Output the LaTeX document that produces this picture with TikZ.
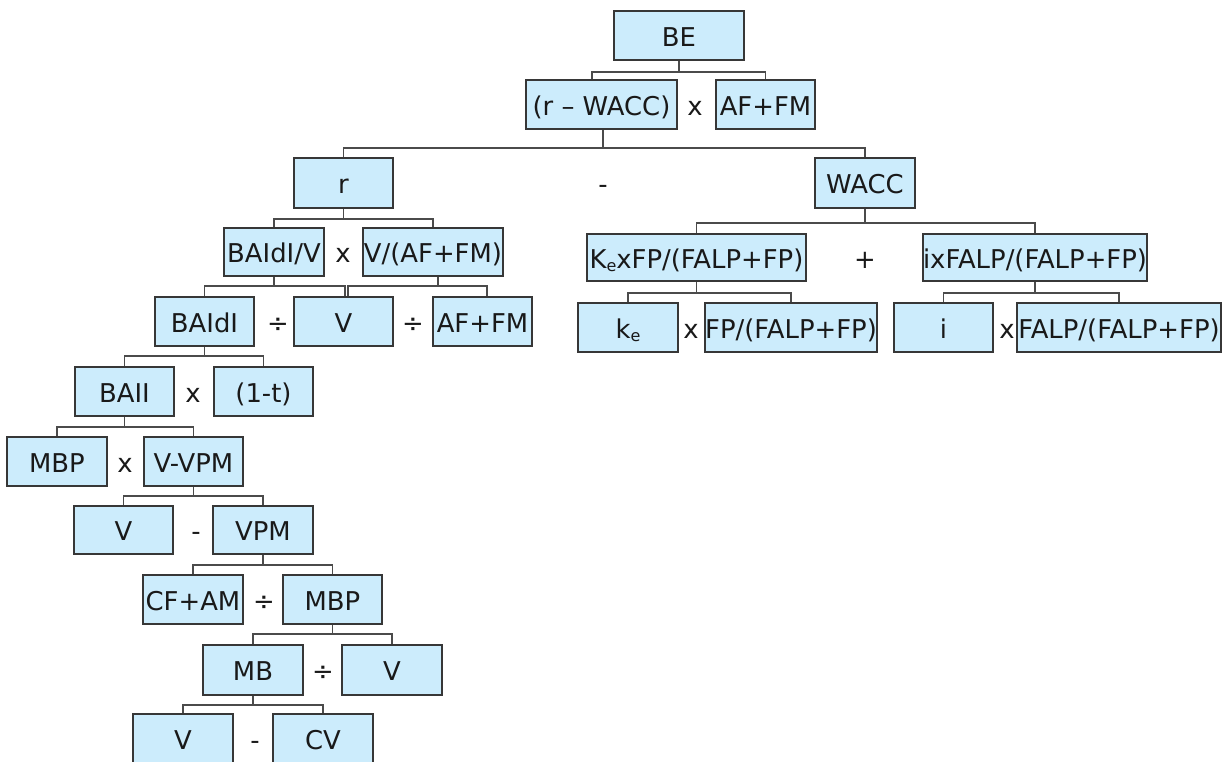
\documentclass[tikz,border=0pt]{standalone}
\usepackage{fontspec}
\setmainfont{DejaVu Sans}
\usetikzlibrary{calc}
\definecolor{boxfill}{RGB}{204,236,252}
\definecolor{boxline}{RGB}{55,55,55}
\definecolor{linkline}{RGB}{75,75,75}
\definecolor{ink}{RGB}{25,25,25}

% box from its corners (x1,y1)-(x2,y2), in pixel units
\newcommand\mkbox[6]{%
  \node[box, minimum width={(#4-#2)*0.75pt}, minimum height={(#5-#3)*0.75pt}]
    (#1) at ({(#2+#4)/2},{(#3+#5)/2}) {#6};}
\newcommand\sube[1]{\raisebox{-0.15em}{\fontsize{12}{12}\selectfont #1}}

\begin{document}
\begin{tikzpicture}[x=0.75pt,y=-0.75pt,
  box/.style={draw=boxline, line width=1.3pt, fill=boxfill, inner sep=0pt,
    text=ink, font=\fontsize{19.4}{21}\selectfont, text height=17pt, text depth=1.1pt},
  op/.style={text=ink, font=\fontsize{19.4}{21}\selectfont, inner sep=0pt,
    text height=17pt, text depth=1.1pt},
  link/.style={draw=linkline, line width=1.4pt},
]
\useasboundingbox (0,0) rectangle (1224,762);
\fill[white] (0,0) rectangle (1224,762);
\clip (0,0) rectangle (1224,762);

% top levels
\mkbox{BE}{614}{11}{744}{60}{BE}
\mkbox{rw}{526}{80}{677}{129}{(r – WACC)}
\mkbox{afA}{716}{80}{815}{129}{AF+FM}
\mkbox{r}{294}{158}{393}{208}{r}
\mkbox{wacc}{815}{158}{915}{208}{WACC}

% left branch
\mkbox{baidiv}{224}{228}{324}{276}{BAIdI/V}
\mkbox{vafm}{363}{228}{503}{276}{V/(AF+FM)}
\mkbox{baidi}{155}{297}{254}{346}{BAIdI}
\mkbox{vA}{294}{297}{393}{346}{V}
\mkbox{afB}{433}{297}{532}{346}{AF+FM}
\mkbox{baii}{75}{367}{174}{416}{BAII}
\mkbox{onet}{214}{367}{313}{416}{(1-t)}
\mkbox{mbpA}{7}{437}{107}{486}{MBP}
\mkbox{vvpm}{144}{437}{243}{486}{V-VPM}
\mkbox{vB}{74}{506}{173}{554}{V}
\mkbox{vpm}{213}{506}{313}{554}{VPM}
\mkbox{cfam}{143}{575}{243}{624}{CF+AM}
\mkbox{mbpB}{283}{575}{382}{624}{MBP}
\mkbox{mb}{203}{645}{303}{695}{MB}
\mkbox{vC}{342}{645}{442}{695}{V}
\mkbox{vD}{133}{714}{233}{763}{V}
\mkbox{cv}{273}{714}{373}{763}{CV}

% right branch
\mkbox{kfp}{587}{234}{806}{281}{K\sube{e}xFP/(FALP+FP)}
\mkbox{ifalp}{923}{234}{1147}{281}{ixFALP/(FALP+FP)}
\mkbox{ke}{578}{303}{678}{352}{k\sube{e}}
\mkbox{fp}{705}{303}{877}{352}{FP/(FALP+FP)}
\mkbox{i}{894}{303}{993}{352}{i}
\mkbox{falp}{1017}{303}{1221}{352}{FALP/(FALP+FP)}

% operators
\node[op] (o1) at (695,104.5) {x};
\node[op] (o2) at (603,183) {-};
\node[op] (o3) at (343,252) {x};
\node[op] (o4) at (278,321.5) {÷};
\node[op] (o5) at (413,321.5) {÷};
\node[op] (o6) at (193,391.5) {x};
\node[op] (o7) at (125,461.5) {x};
\node[op] (o8) at (196,530) {-};
\node[op] (o9) at (264,599.5) {÷};
\node[op] (o10) at (323,670) {÷};
\node[op] (o11) at (255,738.5) {-};
\node[op] (o12) at (865,257.5) {+};
\node[op] (o13) at (691,327.5) {x};
\node[op] (o14) at (1007,327.5) {x};

% connectors
\draw[link] (BE.south) -- ++(0,11) -| ([xshift=-7.1pt]rw.north);
\draw[link] (BE.south) -- ++(0,11) -| (afA.north);
\draw[link] ([xshift=1.1pt]rw.south) -- ++(0,18) -| (r.north);
\draw[link] ([xshift=1.1pt]rw.south) -- ++(0,18) -| (wacc.north);
\draw[link] (r.south) -- ++(0,10) -| (baidiv.north);
\draw[link] (r.south) -- ++(0,10) -| (vafm.north);
\draw[link] (baidiv.south) -- ++(0,9) -| (baidi.north);
\draw[link] (baidiv.south) -- ++(0,9) -| ([xshift=1.1pt]vA.north);
\draw[link] ([xshift=3.75pt]vafm.south) -- ++(0,9) -| ([xshift=3.4pt]vA.north);
\draw[link] ([xshift=3.75pt]vafm.south) -- ++(0,9) -| ([xshift=3.4pt]afB.north);
\draw[link] (baidi.south) -- ++(0,9) -| (baii.north);
\draw[link] (baidi.south) -- ++(0,9) -| (onet.north);
\draw[link] (baii.south) -- ++(0,10) -| (mbpA.north);
\draw[link] (baii.south) -- ++(0,10) -| (vvpm.north);
\draw[link] (vvpm.south) -- ++(0,9) -| (vB.north);
\draw[link] (vvpm.south) -- ++(0,9) -| (vpm.north);
\draw[link] (vpm.south) -- ++(0,10) -| (cfam.north);
\draw[link] (vpm.south) -- ++(0,10) -| (mbpB.north);
\draw[link] (mbpB.south) -- ++(0,9) -| (mb.north);
\draw[link] (mbpB.south) -- ++(0,9) -| (vC.north);
\draw[link] (mb.south) -- ++(0,9) -| (vD.north);
\draw[link] (mb.south) -- ++(0,9) -| (cv.north);
\draw[link] (wacc.south) -- ++(0,14) -| (kfp.north);
\draw[link] (wacc.south) -- ++(0,14) -| (ifalp.north);
\draw[link] (kfp.south) -- ++(0,11) -| (ke.north);
\draw[link] (kfp.south) -- ++(0,11) -| (fp.north);
\draw[link] (ifalp.south) -- ++(0,11) -| (i.north);
\draw[link] (ifalp.south) -- ++(0,11) -| (falp.north);
\end{tikzpicture}
\end{document}
